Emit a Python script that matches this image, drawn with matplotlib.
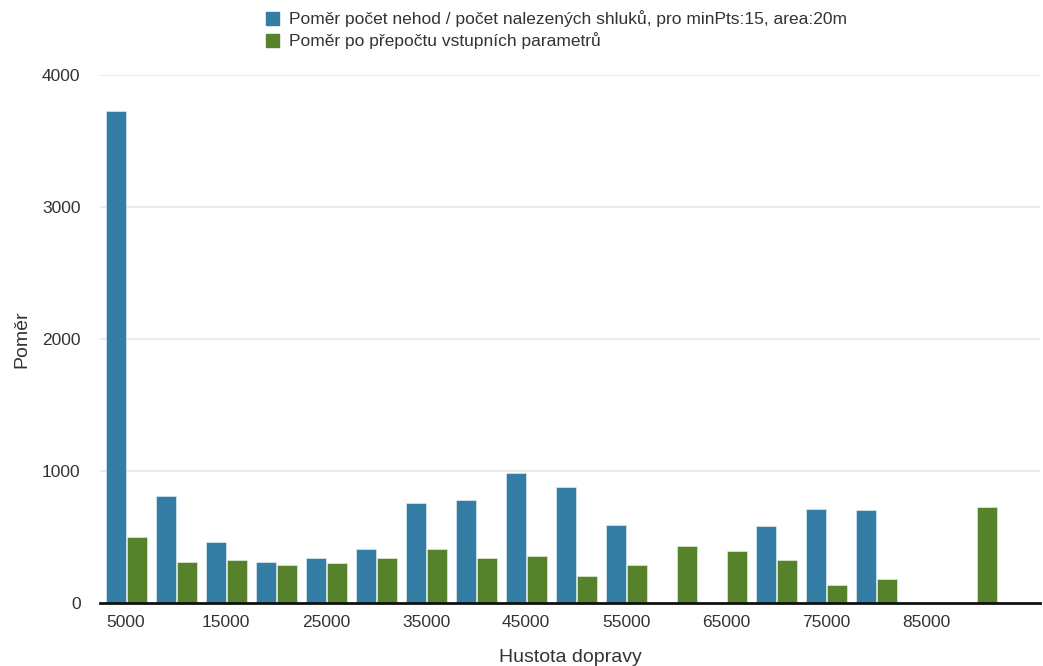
import matplotlib.pyplot as plt
import numpy as np
from matplotlib.patches import Patch

plt.rcParams["font.family"] = ["Liberation Sans", "DejaVu Sans"]

density = [5000, 10000, 15000, 20000, 25000, 30000, 35000, 40000, 45000,
           50000, 55000, 60000, 65000, 70000, 75000, 80000, 85000, 90000]
ratio_raw = [3724, 808, 459, 313, 341, 409, 758, 783, 985,
             876, 593, 0, 0, 581, 715, 702, 0, 0]
ratio_adj = [500, 313, 328, 288, 300, 341, 409, 341, 353,
             207, 288, 434, 394, 328, 139, 182, 0, 727]

label_raw = "Poměr počet nehod / počet nalezených shluků, pro minPts:15, area:20m"
label_adj = "Poměr po přepočtu vstupních parametrů"
blue = "#347da4"
green = "#55822a"

fig = plt.figure(figsize=(10.43, 6.66), dpi=100)
ax = fig.add_axes([100 / 1043, 63 / 666, 940 / 1043, 528 / 666])

x = np.arange(len(density))
w = 0.4
ax.bar(x - 0.21, ratio_raw, w, color=blue, edgecolor="#dfe9ef", linewidth=0.5, zorder=3)
ax.bar(x + 0.21, ratio_adj, w, color=green, edgecolor="#e3ead9", linewidth=0.5, zorder=3)

ax.set_xlim(-0.52, 18.28)
ax.set_ylim(0, 4000)
ax.set_yticks([0, 1000, 2000, 3000, 4000])
ax.yaxis.grid(True, color="#e8e8e8", linewidth=1.2, zorder=0)
ax.set_xticks(x[::2])
ax.set_xticklabels([str(d) for d in density[::2]])
ax.tick_params(axis="both", length=0, labelsize=12.5, labelcolor="#333333")
ax.tick_params(axis="y", pad=14)
ax.tick_params(axis="x", pad=8.5)
for s in ["top", "right", "left"]:
    ax.spines[s].set_visible(False)
ax.spines["bottom"].set_linewidth(2)
ax.spines["bottom"].set_color("#111111")
ax.spines["bottom"].set_zorder(4)

ax.set_xlabel("Hustota dopravy", fontsize=14, color="#333333", labelpad=14)
ax.set_ylabel("Poměr", fontsize=14, color="#333333", labelpad=8)

handles = [Patch(color=blue), Patch(color=green)]
fig.legend(handles, [label_raw, label_adj], loc="upper left",
           bbox_to_anchor=(250 / 1043, 1.008), frameon=False,
           handlelength=0.75, handleheight=0.75, handletextpad=0.6,
           labelspacing=0.3, fontsize=12.5, labelcolor="#333333")

fig.savefig("out.png", dpi=100)
